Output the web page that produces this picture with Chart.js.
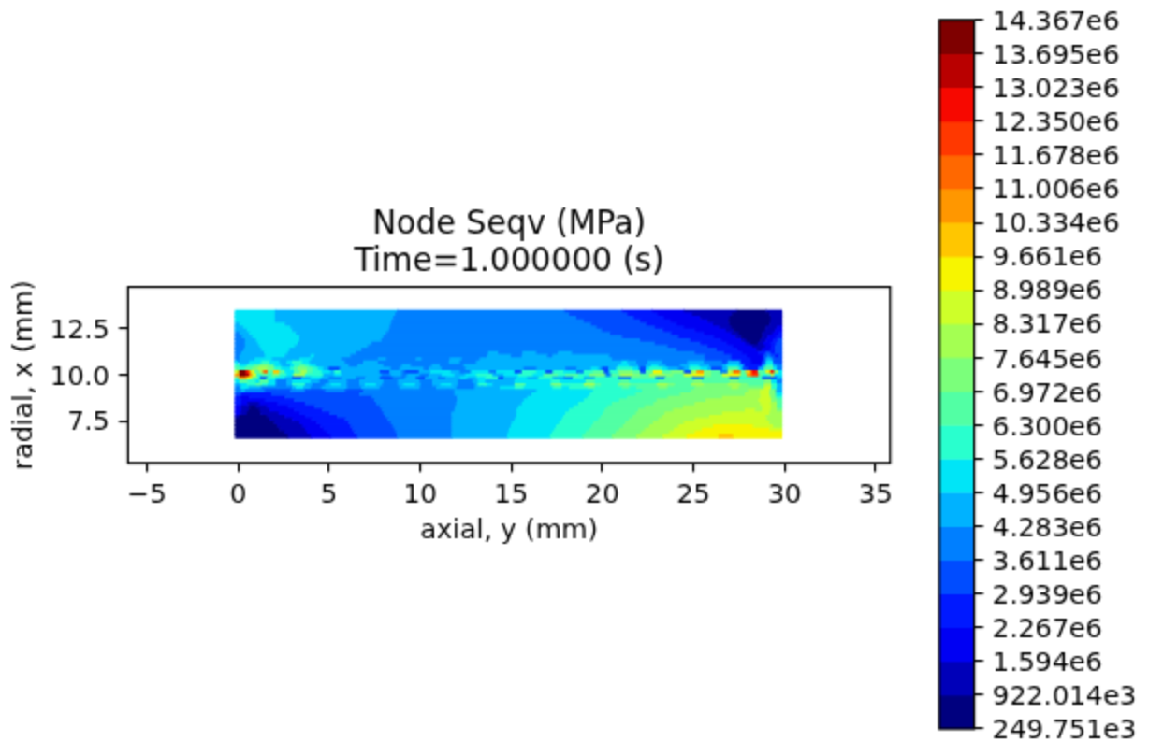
<!DOCTYPE html>
<html><head><meta charset="utf-8">
<script src="https://cdn.jsdelivr.net/npm/chart.js@4"></script>
<style>
html,body{margin:0;padding:0;background:#fff;overflow:hidden}
#wrap{position:absolute;left:0;top:0;width:614px;height:397px;transform:scale(1.8713,1.869);transform-origin:0 0}
#wrap canvas{position:absolute;left:0;top:0}
</style></head><body>
<div id="wrap"><canvas id="field" width="614" height="397"></canvas><canvas id="bar" width="614" height="397"></canvas></div>
<script>
const titleLines = ['Node Seqv (MPa)', 'Time=1.000000 (s)'];
const xAxisLabel = 'axial, y (mm)';
const yAxisLabel = 'radial, x (mm)';
const xTicks = [-5, 0, 5, 10, 15, 20, 25, 30, 35];
const yTicks = [7.5, 10, 12.5];
const levelValues = [249751,922014,1594000,2267000,2939000,3611000,4283000,4956000,5628000,6300000,6972000,7645000,8317000,8989000,9661000,10334000,11006000,11678000,12350000,13023000,13695000,14367000];
const levelLabels = ['249.751e3','922.014e3','1.594e6','2.267e6','2.939e6','3.611e6','4.283e6','4.956e6','5.628e6','6.300e6','6.972e6','7.645e6','8.317e6','8.989e6','9.661e6','10.334e6','11.006e6','11.678e6','12.350e6','13.023e6','13.695e6','14.367e6'];
const bandColors = ['#00007f','#0000b9','#0000f3','#0019ff','#004cff','#007fff','#00b2ff','#00e5f7','#29ffce','#52ffa4','#7bff7b','#a4ff52','#ceff29','#f7f500','#ffc600','#ff9700','#ff6800','#ff3800','#f70800','#b90000','#7f0000'];
const xStart = -0.15;
const rowY = [13.41,13.24,13.07,12.89,12.72,12.55,12.38,12.20,12.03,11.86,11.68,11.51,11.34,11.16,10.99,10.82,10.65,10.47,10.30,10.13,9.95,9.78,9.61,9.43,9.26,9.09,8.92,8.74,8.57,8.40,8.22,8.05,7.88,7.70,7.53,7.36,7.19,7.01,6.84,6.67];
// each row: [x where the run ends (mm), contour band]
const rowRuns = [
[[2.05,7],[8.75,6],[17.95,5],[21.1,4],[22.75,3],[24.5,2],[27.4,1],[29,0],[29.85,1]],
[[2.05,7],[8.65,6],[18.2,5],[21.4,4],[23.05,3],[24.95,2],[27.15,1],[29.2,0],[29.85,1]],
[[2.05,7],[8.55,6],[18.6,5],[21.75,4],[23.4,3],[25.4,2],[27,1],[29.25,0],[29.85,1]],
[[2.05,7],[8.45,6],[19,5],[22.1,4],[23.75,3],[25.8,2],[26.95,1],[29.25,0],[29.85,1]],
[[.1,6],[2.6,7],[8.4,6],[19.4,5],[22.45,4],[24.1,3],[26.1,2],[27,1],[29.2,0],[29.85,1]],
[[.3,6],[2.9,7],[8.35,6],[19.7,5],[22.9,4],[24.5,3],[26.45,2],[27.1,1],[29,0],[29.6,1],[29.85,2]],
[[.5,6],[3,7],[8.3,6],[20,5],[23.35,4],[25.1,3],[26.8,2],[27.25,1],[28.95,0],[29.5,1],[29.85,2]],
[[.1,5],[.65,6],[3.2,7],[8.15,6],[20.45,5],[23.8,4],[25.6,3],[27.1,2],[27.5,1],[28.8,0],[29.35,1],[29.7,2],[29.85,3]],
[[.25,5],[.8,6],[3.4,7],[8,6],[21.1,5],[24.2,4],[26.15,3],[27.35,2],[27.65,1],[28.8,0],[29.1,1],[29.55,2],[29.85,3]],
[[.4,5],[1,6],[3.4,7],[7.9,6],[22.1,5],[24.85,4],[26.55,3],[27.65,2],[27.9,1],[28.7,0],[29,1],[29.4,2],[29.65,3],[29.85,4]],
[[.4,5],[1.1,6],[3.3,7],[7.35,6],[22.9,5],[25.4,4],[26.85,3],[27.9,2],[28.15,1],[28.55,0],[28.85,1],[29.25,2],[29.55,3],[29.85,4]],
[[.4,5],[1.2,6],[3.15,7],[7.15,6],[23.6,5],[25.8,4],[27.2,3],[28.25,2],[28.95,1],[29.3,2],[29.5,3],[29.85,4]],
[[.35,5],[1.3,6],[2.85,7],[6.8,6],[24.1,5],[26.3,4],[27.45,3],[28.5,2],[28.8,1],[29.25,2],[29.5,3],[29.85,4]],
[[.2,5],[1.45,6],[2.75,7],[6.5,6],[13.75,5],[14.3,6],[15.65,5],[16.4,6],[17.6,5],[18.35,6],[25.1,5],[26.7,4],[27.7,3],[28.6,2],[29,3],[29.25,4],[29.5,3],[29.85,4]],
[[.1,5],[1.5,6],[2.6,7],[4,6],[4.2,7],[6.2,6],[13.7,5],[15,6],[15.6,5],[17,6],[17.3,5],[20.4,6],[25.65,5],[27.1,4],[27.95,3],[28.85,2],[29.05,4],[29.25,5],[29.5,4],[29.7,3],[29.85,4]],
[[.1,5],[.95,6],[1.9,7],[3.4,6],[4.05,7],[5.7,6],[7.7,5],[8.15,6],[9.8,5],[10.1,6],[11.65,5],[12.3,6],[13.3,5],[20.55,6],[25.65,5],[27.1,4],[28.15,3],[28.85,2],[29,4],[29.35,6],[29.55,4],[29.85,4]],
[[0,7],[.65,6],[1.3,7],[1.75,8],[2.3,7],[2.7,6],[3,7],[3.55,8],[3.95,7],[5.9,6],[6.9,5],[7.7,6],[11.6,5],[12.2,6],[13.1,5],[21.1,6],[21.4,7],[21.9,6],[22.5,5],[23.3,6],[24.7,5],[25.6,6],[26.6,5],[26.9,4],[27.6,6],[28.2,3],[28.8,2],[29,4],[29.4,7],[29.6,4],[29.85,4]],
[[.1,8],[.5,7],[.9,8],[1.2,9],[1.7,10],[2,9],[2.4,7],[2.9,6],[3.1,7],[3.4,8],[3.7,9],[3.95,8],[4.3,7],[6.1,6],[6.6,5],[8,6],[9,5],[9.5,6],[10.65,5],[11.1,6],[12.4,5],[20.9,6],[21.5,7],[22,6],[22.4,5],[22.7,6],[23.1,7],[23.5,6],[24.3,5],[24.8,6],[25.35,7],[25.9,6],[26.6,5],[26.85,6],[27.5,7],[27.8,6],[28.8,3],[29,6],[29.4,8],[29.6,6],[29.85,5]],
[[.1,9],[.4,8],[.8,9],[1.1,10],[1.6,11],[2,10],[2.4,8],[2.9,7],[3.1,8],[3.3,9],[3.8,10],[4.1,9],[4.4,8],[4.7,7],[5,6],[5.6,4],[8.4,6],[8.9,5],[10.2,6],[10.5,5],[11.2,6],[12.5,5],[15.7,6],[16.4,5],[18,6],[18.6,5],[19.4,6],[19.8,7],[20,6],[20.35,4],[20.8,6],[21.7,8],[22.05,7],[22.4,4],[22.6,7],[23.3,8],[23.6,7],[24.2,6],[24.5,5],[24.8,6],[25.4,8],[25.8,7],[26,6],[26.6,4],[26.9,6],[27.5,9],[27.7,7],[28,4],[28.6,3],[28.9,6],[29.4,9],[29.6,7],[29.85,5]],
[[.08,12],[.45,20],[.6,18],[.75,15],[.95,12],[1.2,9],[1.4,11],[1.65,16],[1.95,9],[2.3,14],[2.6,9],[3.1,7],[3.45,9],[3.8,11],[4.1,9],[4.6,8],[5.1,7],[5.3,6],[5.65,8],[7.8,6],[8.35,4],[9,6],[9.2,5],[9.95,4],[10.6,6],[11.7,7],[12.2,6],[12.8,5],[13.8,7],[14.2,5],[15.2,7],[15.6,4],[16.4,8],[16.9,7],[17.3,4],[17.9,8],[18.6,7],[19,5],[19.5,8],[20.1,9],[20.4,4],[20.9,8],[21.7,10],[22.1,9],[22.4,4],[22.8,9],[23.3,13],[23.8,9],[24.5,10],[24.9,4],[25.2,11],[25.6,15],[26,10],[26.5,9],[26.9,5],[27.2,11],[27.6,16],[27.9,9],[28.2,14],[28.55,18],[28.8,9],[29,9],[29.25,13],[29.45,18],[29.7,10],[29.85,7]],
[[.1,15],[.45,20],[.65,19],[.8,15],[1.05,12],[1.3,8],[1.7,9],[1.9,8],[2.3,10],[2.7,8],[3.05,7],[3.7,11],[4,8],[4.7,8],[5.3,6],[5.7,7],[7.9,6],[8.4,5],[9,6],[9.3,5],[10,6],[10.5,5],[11.2,6],[11.9,7],[12.5,6],[13.1,7],[14,8],[14.6,6],[15.4,7],[16.2,8],[16.8,7],[17.6,9],[18,8],[18.7,9],[19.3,8],[20.2,10],[20.5,5],[21,9],[21.7,11],[22.1,10],[22.6,9],[23.4,11],[23.9,10],[24.5,9],[25,12],[25.6,13],[26,10],[26.6,9],[27,12],[27.6,13],[27.95,9],[28.2,15],[28.6,17],[28.85,9],[29.1,8],[29.3,9],[29.45,12],[29.85,7]],
[[.05,9],[.5,15],[.8,13],[1.15,9],[1.25,7],[1.6,4],[2.1,8],[2.6,7],[3,6],[3.5,4],[4,6],[4.6,7],[5,6],[5.7,5],[6.5,6],[7,5],[7.8,6],[8.5,4],[9.2,5],[9.8,6],[10.3,4],[11,6],[11.4,5],[12.2,6],[12.6,7],[13.1,6],[13.6,7],[14.3,8],[14.6,4],[15.3,6],[15.9,7],[16.5,6],[17.3,8],[17.9,6],[18.4,5],[19,8],[19.6,6],[20.9,8],[21.6,5],[22.95,9],[23.45,5],[24.95,9],[25.6,5],[27,9],[27.55,5],[28.8,8],[29.6,4],[29.85,6]],
[[.1,7],[.55,9],[1,8],[1.2,7],[1.7,9],[2.1,7],[2.7,5],[3,6],[3.6,7],[4,7],[4.5,6],[5,5],[5.3,6],[5.6,6],[6,6],[6.7,5],[7,6],[7.6,6],[8,6],[8.8,5],[9.1,6],[9.7,6],[10,6],[10.7,5],[11.2,6],[11.7,6],[12.1,6],[12.9,5],[13.2,6],[13.6,7],[14,6],[15.2,6],[15.7,7],[16.2,7],[17.2,7],[17.7,8],[18.2,7],[19.1,7],[19.6,9],[20,8],[21,8],[21.5,9],[22,8],[23.1,8],[23.6,9],[24,9],[25,9],[25.5,10],[26,9],[27,9],[27.5,10],[28,9],[28.9,9],[29.3,10],[29.6,7],[29.85,5]],
[[.15,6],[.5,7],[1,8],[1.35,9],[1.65,8],[2.1,7],[2.7,5],[3,6],[3.7,8],[4.1,6],[4.8,5],[5.1,6],[5.65,7],[6,6],[6.7,5],[7,6],[7.6,7],[7.95,6],[8.8,5],[9.1,6],[9.75,7],[10.05,6],[10.7,5],[11.15,6],[11.75,7],[12.1,6],[13,5],[13.2,6],[13.7,8],[14,7],[15.2,6],[15.8,9],[16.2,7],[17.2,7],[17.8,10],[18.2,8],[19,8],[19.6,11],[19.95,9],[20.9,8],[21.55,10],[22,9],[23,9],[23.6,11],[24,10],[24.9,9],[25.6,11],[26,10],[26.9,10],[27.6,11],[28,10],[28.9,9],[29.3,11],[29.6,8],[29.85,6]],
[[.15,5],[.6,7],[1.3,6],[2.2,5],[3,5],[3.2,6],[3.6,7],[4,6],[4.6,5],[5.1,6],[5.7,6],[6,6],[6.8,5],[7.1,6],[7.8,6],[8.9,5],[9.2,6],[9.7,6],[10,6],[10.9,5],[11.3,6],[11.8,6],[12,6],[13,5],[13.4,6],[14.4,6],[15.2,7],[15.7,8],[16.3,7],[17.3,7],[17.8,8],[18.2,7],[19.2,8],[19.6,9],[20,8],[21.1,8],[21.5,9],[21.9,8],[23.1,9],[23.6,10],[24,9],[25.1,9],[25.5,10],[26,10],[27.1,10],[27.5,11],[28,10],[28.9,10],[29.3,12],[29.6,8],[29.85,6]],
[[.2,5],[.4,6],[1.5,5],[2.9,4],[3.7,5],[4.8,4],[5.9,5],[6.9,4],[11.5,5],[11.9,5],[16.4,6],[19.5,7],[22.2,8],[24.9,9],[28,10],[28.7,11],[29.2,12],[29.55,10],[29.85,6]],
[[.2,4],[1.85,3],[6.7,4],[11.9,5],[16.15,6],[19.35,7],[21.85,8],[24.3,9],[27.85,10],[28.7,11],[29.2,12],[29.55,10],[29.85,7]],
[[.15,3],[.65,2],[2.6,3],[7.35,4],[12.05,5],[15.9,6],[19.2,7],[21.4,8],[23.6,9],[26.6,10],[28.7,11],[29.25,12],[29.55,10],[29.85,8]],
[[.2,3],[1.5,2],[3.1,3],[7.5,4],[12.05,5],[15.7,6],[19,7],[20.95,8],[23,9],[25.7,10],[28.6,11],[29.3,12],[29.6,10],[29.85,9]],
[[.2,3],[.55,2],[1.2,1],[2.2,2],[3.7,3],[7.6,4],[12,5],[15.6,6],[18.7,7],[20.55,8],[22.85,9],[25.1,10],[28.7,11],[29.25,12],[29.6,11],[29.85,9]],
[[.2,2],[.65,1],[1,0],[1.6,1],[2.75,2],[4.2,3],[7.8,4],[11.95,5],[15.4,6],[18.45,7],[20.3,8],[22.35,9],[24.45,10],[28.8,11],[29.3,12],[29.6,11],[29.85,9]],
[[.2,2],[.6,1],[1.2,0],[1.75,1],[3.1,2],[4.65,3],[7.9,4],[11.9,5],[15.3,6],[18.2,7],[20.15,8],[22,9],[23.9,10],[27.85,11],[28.4,12],[28.8,11],[29.25,12],[29.6,11],[29.85,10]],
[[.15,2],[.5,1],[1.25,0],[2.25,1],[3.4,2],[5.05,3],[8,4],[11.75,5],[15.3,6],[18,7],[20.05,8],[21.85,9],[23.45,10],[26.6,11],[29.2,12],[29.85,11]],
[[.1,1],[1.6,0],[2.6,1],[3.7,2],[5.45,3],[8.1,4],[11.75,5],[15.3,6],[17.9,7],[19.95,8],[21.7,9],[23.3,10],[25.9,11],[29,12],[29.85,11]],
[[1.75,0],[3,1],[4.05,2],[5.9,3],[8.25,4],[11.75,5],[15.2,6],[17.8,7],[19.8,8],[21.5,9],[23.1,10],[25.1,11],[29.05,12],[29.85,11]],
[[2,0],[3.4,1],[4.35,2],[6.1,3],[8.4,4],[11.75,5],[15.05,6],[17.65,7],[19.55,8],[21.3,9],[22.8,10],[24.5,11],[29.2,12],[29.85,11]],
[[2.15,0],[3.55,1],[4.55,2],[6.2,3],[8.5,4],[11.75,5],[15,6],[17.5,7],[19.45,8],[21.15,9],[22.6,10],[24.2,11],[26.1,12],[28.3,13],[29.4,12],[29.85,11]],
[[2.3,0],[3.7,1],[4.7,2],[6.3,3],[8.6,4],[11.75,5],[14.9,6],[17.4,7],[19.3,8],[20.95,9],[22.35,10],[23.95,11],[25.5,12],[29.2,13],[29.85,12]],
[[2.55,0],[3.8,1],[4.9,2],[6.4,3],[8.7,4],[11.75,5],[14.85,6],[17.25,7],[19.1,8],[20.75,9],[22.15,10],[23.7,11],[25.1,12],[29.85,13]],
[[2.75,0],[4,1],[5.1,2],[6.55,3],[8.75,4],[11.75,5],[14.8,6],[17.15,7],[18.95,8],[20.55,9],[21.9,10],[23.35,11],[24.65,12],[26.4,13],[27.2,14],[29.85,13]]
];

const font = {family:'"DejaVu Sans"', size:14.3};
const frame = {id:'frame', afterDraw(c){const a=c.chartArea,x=c.ctx;x.save();x.strokeStyle='#000';x.lineWidth=1.11;x.strokeRect(a.left,a.top,a.right-a.left,a.bottom-a.top);x.restore();}};
const grid = {drawOnChartArea:false, drawTicks:true, tickLength:4.86, color:'#000', lineWidth:1.11};

const cells = [], cellColors = [];
rowRuns.forEach((runs,i)=>{let s=xStart;runs.forEach(([e,l])=>{cells.push({x:[s,e],y:rowY[i]});cellColors.push(bandColors[l]);s=e;});});

new Chart(document.getElementById('field'),{
  type:'bar',
  data:{datasets:[{data:cells,backgroundColor:cellColors,borderWidth:0,barThickness:2.1,inflateAmount:0.3,grouped:false}]},
  options:{
    indexAxis:'y',responsive:false,animation:false,devicePixelRatio:1,
    layout:{padding:{left:0,right:138.3,top:0,bottom:89.3}},
    plugins:{legend:{display:false},tooltip:{enabled:false},
      title:{display:true,text:titleLines,color:'#000',fullSize:false,font:{family:font.family,size:17.15,weight:'normal',lineHeight:1.15},padding:{top:110.6,bottom:3.5}}},
    scales:{
      x:{type:'linear',min:-6.04,max:35.8,grid,border:{display:false},
        afterBuildTicks(s){s.ticks=xTicks.map(v=>({value:v}));},
        afterFit(s){s.height=60;},
        ticks:{font,color:'#000',padding:4.6,maxRotation:0,autoSkip:false,callback:v=>String(v).replace('-','\u2212')},
        title:{display:true,text:xAxisLabel,color:'#000',font,padding:{top:4,bottom:14.7}}},
      y:{type:'linear',offset:false,min:5.22,max:14.78,grid:{...grid,offset:false},border:{display:false},
        afterBuildTicks(s){s.ticks=yTicks.map(v=>({value:v}));},
        afterFit(s){s.width=68.4;},
        ticks:{font,color:'#000',padding:4.86,labelOffset:1.5,autoSkip:false,callback:v=>Number(v).toFixed(1)},
        title:{display:true,text:yAxisLabel,color:'#000',font,padding:{top:4.6,bottom:4}}}
    }
  },
  plugins:[frame]
});

const bandNames = bandColors.map((c,i)=>levelLabels[i]);
new Chart(document.getElementById('bar'),{
  type:'bar',
  data:{labels:bandNames,datasets:[{data:bandColors.map((c,i)=>({x:bandNames[0],y:[levelValues[i],levelValues[i+1]]})),backgroundColor:bandColors,borderWidth:0,barPercentage:1,categoryPercentage:1,grouped:false,inflateAmount:0.3}]},
  options:{
    responsive:false,animation:false,devicePixelRatio:1,
    layout:{padding:{left:501.9,right:0,top:10.7,bottom:7}},
    plugins:{legend:{display:false},tooltip:{enabled:false}},
    scales:{
      x:{type:'category',labels:[bandNames[0]],display:false},
      y:{type:'linear',position:'right',min:levelValues[0],max:levelValues[levelValues.length-1],grid,border:{display:false},
        afterBuildTicks(s){s.ticks=levelValues.map(v=>({value:v}));},
        afterFit(s){s.width=93.4;s.paddingTop=0;s.paddingBottom=0;},
        ticks:{font,color:'#000',padding:4.86,labelOffset:1.5,autoSkip:false,crossAlign:'near',callback(v){return levelLabels[levelValues.indexOf(v)];}}}
    }
  },
  plugins:[frame]
});
</script></body></html>
